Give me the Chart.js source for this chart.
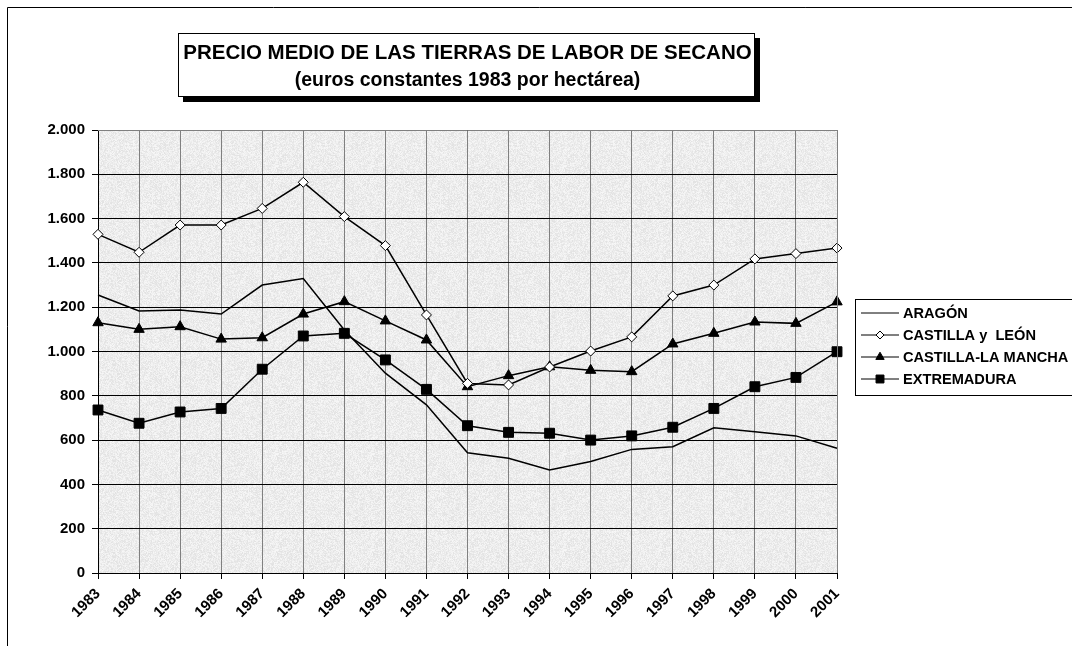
<!DOCTYPE html>
<html>
<head>
<meta charset="utf-8">
<script src="https://cdn.jsdelivr.net/npm/chart.js@4"></script>
<style>
  html, body { margin: 0; padding: 0; background: #fff; }
  #wrap { width: 1072px; height: 646px; position: relative; }
</style>
</head>
<body>
<div id="wrap"><canvas id="chart"></canvas></div>
<script>
// datos (euros constantes 1983 / ha)
const years = ['1983','1984','1985','1986','1987','1988','1989','1990','1991','1992',
               '1993','1994','1995','1996','1997','1998','1999','2000','2001']
const aragon = [1255,1183,1187,1169,1300,1329,1097,902,759,543,518,465,503,558,570,656,638,619,563]
const castillaLeon = [1529,1448,1571,1571,1646,1764,1609,1478,1165,856,849,930,1002,1066,1251,1300,1418,1442,1467]
const castillaMancha = [1130,1100,1112,1056,1062,1169,1225,1138,1052,841,891,931,915,909,1034,1082,1133,1127,1224]
const extremadura = [736,676,727,743,920,1070,1082,962,829,665,635,631,600,619,658,743,841,883,999]
const yTicks = [0,200,400,600,800,1000,1200,1400,1600,1800,2000]

const titleLines = ['PRECIO MEDIO DE LAS TIERRAS DE LABOR DE SECANO', '(euros constantes 1983 por hectárea)']
const FONT = '"Liberation Sans", Arial, sans-serif'

// textura gris del área de trazado (ruido determinista)
function makeTexture(ctx) {
  const c = document.createElement('canvas')
  c.width = 96; c.height = 96
  const g = c.getContext('2d')
  const img = g.createImageData(96, 96)
  let s = 12345
  for (let i = 0; i < 96 * 96; i++) {
    s = (s * 1103515245 + 12345) & 0x7fffffff
    const v = 226 + ((s >> 8) % 22)
    img.data[i*4] = v; img.data[i*4+1] = v; img.data[i*4+2] = v; img.data[i*4+3] = 255
  }
  g.putImageData(img, 0, 0)
  return ctx.createPattern(c, 'repeat')
}

const decorPlugin = {
  id: 'decor',
  beforeDraw(chart) {
    const { ctx, chartArea: a } = chart
    ctx.save()
    ctx.fillStyle = makeTexture(ctx)
    ctx.fillRect(a.left, a.top, a.right - a.left, a.bottom - a.top)
    ctx.restore()
  },
  afterDraw(chart) {
    const { ctx, chartArea: a } = chart
    ctx.save()
    // marco exterior
    ctx.strokeStyle = '#000'
    ctx.lineWidth = 1
    ctx.beginPath()
    ctx.moveTo(7.5, 646); ctx.lineTo(7.5, 7.5); ctx.lineTo(1072, 7.5)
    ctx.stroke()
    // borde superior y derecho del área
    ctx.strokeStyle = '#808080'
    ctx.beginPath()
    ctx.moveTo(a.left, a.top + 0.5); ctx.lineTo(a.right + 0.5, a.top + 0.5); ctx.lineTo(a.right + 0.5, a.bottom)
    ctx.stroke()

    // título con sombra
    const tx = 178, ty = 33, tw = 577, th = 64
    ctx.fillStyle = '#000'
    ctx.fillRect(tx + 5, ty + 5, tw, th)
    ctx.fillStyle = '#fff'
    ctx.fillRect(tx, ty, tw, th)
    ctx.strokeStyle = '#000'
    ctx.strokeRect(tx + 0.5, ty + 0.5, tw - 1, th - 1)
    ctx.fillStyle = '#000'
    ctx.textAlign = 'center'
    ctx.textBaseline = 'middle'
    ctx.font = 'bold 20.5px ' + FONT
    ctx.fillText(titleLines[0], tx + tw / 2 + 1, 53)
    ctx.font = 'bold 19.5px ' + FONT
    ctx.fillText(titleLines[1], tx + tw / 2 + 1, 81)

    // leyenda
    const lx = 855, ly = 299
    ctx.fillStyle = '#fff'
    ctx.fillRect(lx, ly, 230, 97)
    ctx.strokeStyle = '#000'
    ctx.strokeRect(lx + 0.5, ly + 0.5, 230, 96)
    ctx.textAlign = 'left'
    ctx.font = 'bold 14.6px ' + FONT
    chart.data.datasets.forEach((ds, i) => {
      const y = ly + 14 + i * 22
      ctx.strokeStyle = '#000'
      ctx.lineWidth = 1
      ctx.beginPath()
      ctx.moveTo(861, y); ctx.lineTo(899, y)
      ctx.stroke()
      if (ds.pointRadius > 0) {
        ctx.fillStyle = ds.pointBackgroundColor
        ctx.strokeStyle = '#000'
        Chart.helpers.drawPoint(ctx, {
          pointStyle: ds.pointStyle,
          radius: ds.pointRadius * 0.8,
          borderWidth: 1,
          rotation: 0
        }, 880, y)
      }
      ctx.fillStyle = '#000'
      ctx.fillText(ds.label, 903, y + 1)
    })
    ctx.restore()
  }
}

const fmt = v => String(v).replace(/\B(?=(\d{3})+(?!\d))/g, '.')

new Chart(document.getElementById('chart'), {
  type: 'line',
  data: {
    labels: years,
    datasets: [
      {
        label: 'ARAGÓN',
        data: aragon,
        borderColor: '#000',
        borderWidth: 1.5,
        pointRadius: 0,
        pointBackgroundColor: '#000',
        pointStyle: 'line'
      },
      {
        label: 'CASTILLA y  LEÓN',
        data: castillaLeon,
        borderColor: '#000',
        borderWidth: 1.5,
        pointStyle: 'rectRot',
        pointRadius: 5,
        pointBackgroundColor: '#fff',
        pointBorderColor: '#000',
        pointBorderWidth: 1
      },
      {
        label: 'CASTILLA-LA MANCHA',
        data: castillaMancha,
        borderColor: '#000',
        borderWidth: 1.5,
        pointStyle: 'triangle',
        pointRadius: 6,
        pointBackgroundColor: '#000',
        pointBorderColor: '#000',
        pointBorderWidth: 1
      },
      {
        label: 'EXTREMADURA',
        data: extremadura,
        borderColor: '#000',
        borderWidth: 1.5,
        pointStyle: 'rect',
        pointRadius: 7,
        pointBackgroundColor: '#000',
        pointBorderColor: '#000',
        pointBorderWidth: 1
      }
    ]
  },
  options: {
    responsive: true,
    maintainAspectRatio: false,
    animation: false,
    layout: { padding: { left: 10, top: 130, right: 235, bottom: 0 } },
    plugins: {
      legend: { display: false },
      title: { display: false },
      tooltip: { enabled: false }
    },
    scales: {
      x: {
        offset: false,
        grid: { color: '#808080', lineWidth: 1, tickLength: 6, tickColor: '#000' },
        border: { color: '#000', width: 1 },
        ticks: {
          autoSkip: false,
          minRotation: 45,
          maxRotation: 45,
          color: '#000',
          padding: 6,
          font: { family: FONT, weight: 'bold', size: 15 }
        },
        afterFit(scale) { scale.height = 73 }
      },
      y: {
        min: yTicks[0],
        max: yTicks[yTicks.length - 1],
        afterBuildTicks(scale) { scale.ticks = yTicks.map(v => ({ value: v })) },
        grid: { color: '#000', lineWidth: 1, tickLength: 6, tickColor: '#000' },
        border: { color: '#000', width: 1 },
        ticks: {
          color: '#000',
          padding: 7,
          font: { family: FONT, weight: 'bold', size: 15 },
          callback: v => fmt(v)
        },
        afterFit(scale) { scale.width = 88 }
      }
    }
  },
  plugins: [decorPlugin]
})
</script>
</body>
</html>
